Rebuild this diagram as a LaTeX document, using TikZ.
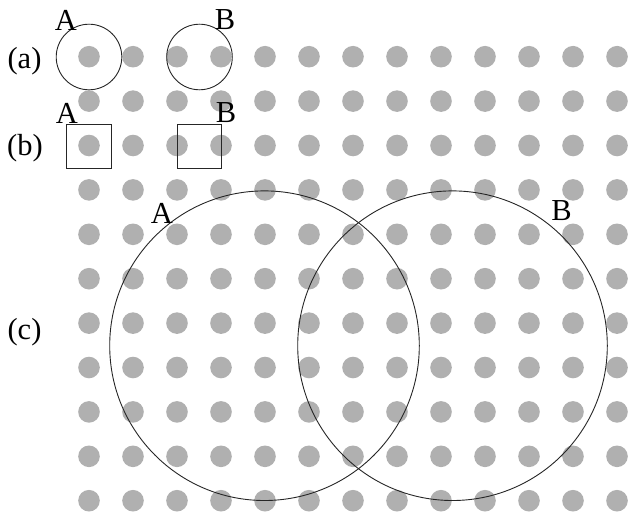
\documentclass[tikz,border=0pt]{standalone}
\usepackage{fontspec}
\setmainfont{Liberation Serif}
\begin{document}
\begin{tikzpicture}[x=1pt,y=-1pt,
  dotc/.style={fill=dotgray},
  ring/.style={draw=black!85,line width=0.9pt},
  lbl/.style={inner sep=0pt,font=\fontsize{30.5}{34}\selectfont}]
\definecolor{dotgray}{RGB}{176,176,176}
\useasboundingbox (0,0) rectangle (628,516);
% dot grid
\foreach \i in {0,...,12}{
  \foreach \j in {0,...,10}{
    \fill[dotc] ({89+44*\i},{56.7+44.4*\j}) circle (10.8);
  }
}
% (a)
\draw[ring] (89,57) circle (32.8);
\draw[ring] (199.5,57) circle (32.8);
\node[lbl] (aA) at (66,20) {A};
\node[lbl] (aB) at (225,20) {B};
\node[lbl] (la) at (24.5,61.3) {(a)};
% (b)
\draw[ring] (66.7,124.3) rectangle (111.3,168.3);
\draw[ring] (177,124.3) rectangle (221.3,168.3);
\node[lbl] (bA) at (67,113) {A};
\node[lbl] (bB) at (226,113) {B};
\node[lbl] (lb) at (25,148) {(b)};
% (c)
\draw[ring] (264.5,345.7) circle (154.8);
\draw[ring] (452.5,345.7) circle (154.8);
\node[lbl] (cA) at (162,213) {A};
\node[lbl] (cB) at (561.5,211) {B};
\node[lbl] (lc) at (24.5,331.7) {(c)};
\end{tikzpicture}
\end{document}
